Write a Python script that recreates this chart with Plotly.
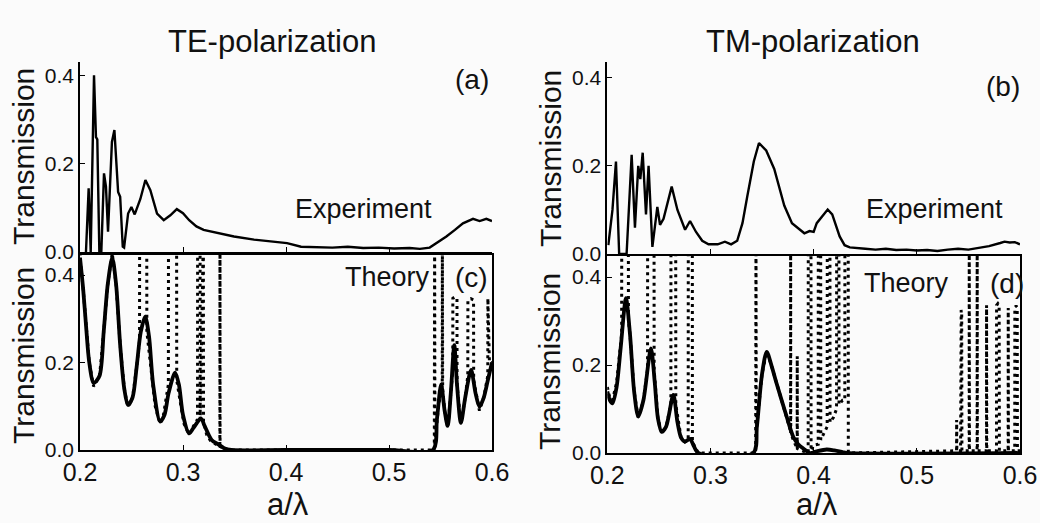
import plotly.graph_objects as go

# ---------------- data ----------------
x_ticks = [0.2, 0.3, 0.4, 0.5, 0.6]
x_tick_text = ["0.2", "0.3", "0.4", "0.5", "0.6"]
y_ticks = [0.0, 0.2, 0.4]
y_tick_text = ["0.0", "0.2", "0.4"]

# (a) TE experiment
te_exp_x = [0.2058, 0.2084, 0.2104, 0.2123, 0.2136, 0.2155, 0.2168, 0.2188, 0.2207, 0.2233,
            0.2252, 0.2272, 0.2295, 0.2310, 0.2334, 0.2350, 0.2370, 0.2390, 0.2415, 0.2428,
            0.2467, 0.2499, 0.2531, 0.2586, 0.2635, 0.2683, 0.2748, 0.2813, 0.2877, 0.2940,
            0.3000, 0.3060, 0.3130, 0.3200, 0.3333, 0.3495, 0.3690, 0.3850, 0.4010, 0.4146,
            0.4300, 0.4450, 0.4600, 0.4750, 0.4900, 0.5050, 0.5200, 0.5300, 0.5395, 0.5460,
            0.5557, 0.5640, 0.5718, 0.5816, 0.5880, 0.5945, 0.6000]
te_exp_y = [0.0, 0.144, 0.0, 0.245, 0.40, 0.26, 0.255, 0.0, 0.0, 0.178,
            0.148, 0.046, 0.185, 0.249, 0.276, 0.20, 0.136, 0.125, 0.012, 0.010,
            0.087, 0.102, 0.085, 0.12, 0.163, 0.14, 0.087, 0.072, 0.083, 0.097,
            0.088, 0.072, 0.058, 0.05, 0.043, 0.035, 0.028, 0.024, 0.02, 0.012,
            0.011, 0.010, 0.012, 0.009, 0.010, 0.008, 0.009, 0.007, 0.010, 0.02,
            0.035, 0.05, 0.065, 0.075, 0.07, 0.075, 0.07]

# (b) TM experiment
tm_exp_x = [0.2010, 0.2050, 0.2084, 0.2100, 0.2115, 0.2187, 0.2236, 0.2268, 0.2300, 0.2320,
            0.2343, 0.2375, 0.2400, 0.2437, 0.2485, 0.2511, 0.2545, 0.2624, 0.2680, 0.2754,
            0.2802, 0.2860, 0.2920, 0.2981, 0.3070, 0.3140, 0.3200, 0.3259, 0.3310, 0.3356,
            0.3420, 0.3470, 0.3540, 0.3618, 0.3715, 0.3790, 0.3845, 0.3910, 0.3960, 0.4000,
            0.4030, 0.4080, 0.4136, 0.4180, 0.4252, 0.4300, 0.4350, 0.4500, 0.4600, 0.4700,
            0.4800, 0.4900, 0.5000, 0.5100, 0.5200, 0.5300, 0.5400, 0.5500, 0.5600, 0.5700,
            0.5809, 0.5850, 0.5900, 0.5950, 0.6000]
tm_exp_y = [0.02, 0.10, 0.21, 0.10, 0.0, 0.0, 0.225, 0.06, 0.20, 0.17,
            0.23, 0.09, 0.20, 0.016, 0.107, 0.066, 0.08, 0.153, 0.10, 0.055,
            0.075, 0.05, 0.03, 0.022, 0.022, 0.028, 0.022, 0.03, 0.07, 0.13,
            0.21, 0.252, 0.235, 0.193, 0.11, 0.07, 0.06, 0.047, 0.052, 0.05,
            0.07, 0.085, 0.101, 0.09, 0.04, 0.02, 0.015, 0.012, 0.010, 0.012,
            0.009, 0.010, 0.008, 0.009, 0.007, 0.010, 0.012, 0.010, 0.014, 0.018,
            0.025, 0.028, 0.026, 0.027, 0.022]

# (c) TE theory, solid
te_th_x = [0.200, 0.203, 0.206, 0.209, 0.2133, 0.219, 0.223, 0.227, 0.2313, 0.235,
           0.239, 0.243, 0.2465, 0.251, 0.255, 0.259, 0.2633, 0.267, 0.271, 0.2778,
           0.282, 0.286, 0.2923, 0.296, 0.300, 0.3059, 0.310, 0.3175, 0.321, 0.3278,
           0.3343, 0.340, 0.347, 0.400, 0.500, 0.5426, 0.5465, 0.5506, 0.554, 0.557,
           0.560, 0.5634, 0.566, 0.5698, 0.574, 0.5797, 0.584, 0.5878, 0.592, 0.596, 0.600]
te_th_y = [0.44, 0.37, 0.28, 0.20, 0.153, 0.17, 0.27, 0.38, 0.44, 0.38,
           0.24, 0.14, 0.103, 0.12, 0.19, 0.27, 0.305, 0.26, 0.15, 0.065,
           0.08, 0.13, 0.177, 0.15, 0.08, 0.038, 0.05, 0.072, 0.055, 0.023,
           0.013, 0.004, 0.0, 0.0, 0.0, 0.0, 0.07, 0.15, 0.09, 0.055,
           0.13, 0.24, 0.15, 0.062, 0.12, 0.183, 0.13, 0.099, 0.12, 0.16, 0.20]

# (c) TE theory, dotted (finite crystal, sharp resonances)
te_dot_x = [0.200, 0.2005, 0.203, 0.206, 0.209, 0.2133, 0.219, 0.223, 0.227, 0.2313,
            0.235, 0.239, 0.243, 0.2465, 0.251, 0.255, 0.2578, 0.2579, 0.2648, 0.2649,
            0.269, 0.273, 0.2778, 0.281, 0.2858, 0.2859, 0.2938, 0.2939, 0.298, 0.301,
            0.3059, 0.309, 0.3141, 0.3142, 0.3166, 0.3167, 0.3198, 0.3199, 0.323, 0.327,
            0.333, 0.3358, 0.3359, 0.3360, 0.341, 0.345, 0.5440, 0.5443, 0.5446, 0.548,
            0.5517, 0.5518, 0.5521, 0.554, 0.557, 0.5619, 0.5620, 0.5640, 0.5660, 0.5661,
            0.5698, 0.574, 0.5765, 0.5766, 0.5795, 0.5821, 0.5822, 0.5878, 0.592, 0.5959,
            0.5960, 0.5975, 0.600]
te_dot_y = [0.50, 0.43, 0.37, 0.28, 0.20, 0.145, 0.17, 0.27, 0.38, 0.45,
            0.38, 0.24, 0.14, 0.098, 0.12, 0.19, 0.25, 0.50, 0.50, 0.27,
            0.18, 0.10, 0.06, 0.08, 0.15, 0.50, 0.50, 0.16, 0.10, 0.06,
            0.035, 0.05, 0.07, 0.50, 0.50, 0.07, 0.50, 0.065, 0.035, 0.02,
            0.012, 0.01, 0.50, 0.008, 0.003, 0.0, 0.0, 0.50, 0.01, 0.10,
            0.15, 0.50, 0.14, 0.09, 0.05, 0.18, 0.347, 0.35, 0.347, 0.15,
            0.06, 0.12, 0.17, 0.343, 0.346, 0.343, 0.16, 0.09, 0.12, 0.17,
            0.347, 0.20, 0.20]

# (d) TM theory, solid
tm_th_x = [0.200, 0.2025, 0.205, 0.209, 0.213, 0.2181, 0.222, 0.226, 0.230, 0.235,
           0.2423, 0.246, 0.249, 0.2527, 0.257, 0.264, 0.268, 0.2715, 0.2753, 0.2801,
           0.284, 0.2882, 0.3415, 0.345, 0.350, 0.3545, 0.359, 0.3641, 0.3738, 0.3802,
           0.385, 0.390, 0.3964, 0.403, 0.4126, 0.420, 0.428, 0.432, 0.600]
tm_th_y = [0.14, 0.12, 0.113, 0.15, 0.24, 0.352, 0.27, 0.14, 0.083, 0.12,
           0.238, 0.16, 0.08, 0.048, 0.06, 0.132, 0.07, 0.035, 0.026, 0.032,
           0.015, 0.0, 0.0, 0.06, 0.18, 0.23, 0.20, 0.158, 0.083, 0.037,
           0.02, 0.01, 0.0, 0.004, 0.008, 0.006, 0.002, 0.0, 0.0]

# (d) TM theory, dotted
tm_dot_x = [0.200, 0.2025, 0.205, 0.209, 0.2139, 0.2140, 0.2204, 0.2205, 0.222, 0.226,
            0.230, 0.235, 0.2390, 0.2391, 0.2453, 0.2454, 0.249, 0.2527, 0.257, 0.2616,
            0.2617, 0.2663, 0.2664, 0.2715, 0.2753, 0.2784, 0.2785, 0.2824, 0.2825, 0.2882,
            0.3438, 0.3441, 0.3444, 0.350, 0.3545, 0.359, 0.3641, 0.3738, 0.3776, 0.3777,
            0.3778, 0.3802, 0.3840, 0.3841, 0.3842, 0.389, 0.3947, 0.3948, 0.3974, 0.3975,
            0.4000, 0.4044, 0.4045, 0.4068, 0.4069, 0.4100, 0.4131, 0.4132, 0.4158, 0.4159,
            0.4190, 0.4222, 0.4223, 0.4245, 0.4246, 0.4280, 0.4302, 0.4303, 0.4335, 0.4336,
            0.5385, 0.5386, 0.5388, 0.5424, 0.5425, 0.5430, 0.5435, 0.5437, 0.5507, 0.5508,
            0.5510, 0.5584, 0.5585, 0.5587, 0.5675, 0.5676, 0.5678, 0.5772, 0.5773, 0.5786,
            0.5798, 0.5800, 0.5885, 0.5886, 0.5888, 0.5949, 0.5950, 0.5962, 0.5973, 0.5975,
            0.600]
tm_dot_y = [0.15, 0.125, 0.12, 0.16, 0.27, 0.50, 0.50, 0.30, 0.27, 0.14,
            0.08, 0.12, 0.19, 0.50, 0.50, 0.19, 0.08, 0.045, 0.06, 0.11,
            0.50, 0.50, 0.11, 0.035, 0.025, 0.03, 0.50, 0.50, 0.025, 0.0,
            0.0, 0.50, 0.05, 0.18, 0.23, 0.20, 0.158, 0.083, 0.05, 0.50,
            0.045, 0.03, 0.01, 0.22, 0.01, 0.005, 0.0, 0.50, 0.50, 0.005,
            0.018, 0.02, 0.50, 0.50, 0.03, 0.045, 0.06, 0.50, 0.50, 0.07,
            0.08, 0.10, 0.50, 0.50, 0.11, 0.12, 0.12, 0.50, 0.50, 0.0,
            0.005, 0.075, 0.005, 0.005, 0.32, 0.325, 0.32, 0.005, 0.005, 0.50,
            0.005, 0.005, 0.50, 0.005, 0.005, 0.336, 0.005, 0.005, 0.336, 0.34,
            0.336, 0.005, 0.005, 0.33, 0.005, 0.005, 0.33, 0.335, 0.33, 0.005,
            0.005]

panel_letters = ["(a)", "(b)", "(c)", "(d)"]
panel_labels = ["Experiment", "Experiment", "Theory", "Theory"]
col_titles = ["TE-polarization", "TM-polarization"]
y_title = "Transmission"
x_title = "a/\u03bb"

# ---------------- figure ----------------
W, H = 1040, 523
FONT = "Liberation Sans, Arial, Helvetica, sans-serif"
INK = "#111111"


def px(x):
    return x / W


def py(y):
    return 1 - y / H


fig = go.Figure()
solid_exp = dict(color="black", width=2.4)
solid_th = dict(color="black", width=3.8)
dotted = dict(color="black", width=3, dash="3px,4px")

fig.add_trace(go.Scatter(x=te_exp_x, y=te_exp_y, mode="lines", line=solid_exp, xaxis="x", yaxis="y"))
fig.add_trace(go.Scatter(x=tm_exp_x, y=tm_exp_y, mode="lines", line=solid_exp, xaxis="x2", yaxis="y2"))
fig.add_trace(go.Scatter(x=te_dot_x, y=te_dot_y, mode="lines", line=dotted, xaxis="x3", yaxis="y3"))
fig.add_trace(go.Scatter(x=te_th_x, y=te_th_y, mode="lines", line=dict(solid_th, shape="spline", smoothing=0.8),
                         xaxis="x3", yaxis="y3"))
fig.add_trace(go.Scatter(x=tm_dot_x, y=tm_dot_y, mode="lines", line=dotted, xaxis="x4", yaxis="y4"))
fig.add_trace(go.Scatter(x=tm_th_x, y=tm_th_y, mode="lines", line=dict(solid_th, shape="spline", smoothing=0.8),
                         xaxis="x4", yaxis="y4"))

left_dom = [px(80), px(492)]
right_dom = [px(607.3), px(1020)]


def xax(dom, anchor, labels, mirror):
    return dict(domain=dom, anchor=anchor, range=[0.2, 0.6], showline=True, linecolor="black",
                linewidth=1.6, mirror=mirror, ticks="inside", ticklen=5, tickwidth=1.3,
                tickcolor="black", tickvals=x_ticks, ticktext=x_tick_text, showticklabels=labels,
                tickfont=dict(family=FONT, size=25, color=INK), ticklabelstandoff=-1,
                showgrid=False, zeroline=False, automargin=False, fixedrange=True)


def yax(dom, anchor, top, mirror):
    return dict(domain=dom, anchor=anchor, range=[0, top], showline=True, linecolor="black",
                linewidth=1.6, mirror=mirror, ticks="inside", ticklen=5, tickwidth=1.3,
                tickcolor="black", tickvals=y_ticks, ticktext=y_tick_text,
                tickfont=dict(family=FONT, size=21, color=INK), showgrid=False,
                zeroline=False, automargin=False, fixedrange=True)


fig.update_layout(
    width=W, height=H, template="none", showlegend=False,
    margin=dict(l=0, r=0, t=0, b=0, pad=0),
    paper_bgcolor="#fbfbfb", plot_bgcolor="rgba(0,0,0,0)",
    xaxis=xax(left_dom, "y", False, False),
    yaxis=yax([py(252), py(62)], "x", 0.43, False),
    xaxis2=xax(right_dom, "y2", False, False),
    yaxis2=yax([py(254), py(62)], "x2", 0.436, False),
    xaxis3=xax(left_dom, "y3", True, True),
    yaxis3=yax([py(450), py(255)], "x3", 0.446, True),
    xaxis4=xax(right_dom, "y4", True, True),
    yaxis4=yax([py(453), py(256)], "x4", 0.448, True),
)

ann = []


def text(t, x, y, size, angle=0):
    ann.append(dict(text=t, x=px(x), y=py(y), xref="paper", yref="paper", showarrow=False,
                    xanchor="center", yanchor="middle", textangle=angle,
                    font=dict(family=FONT, size=size, color=INK)))


text(col_titles[0], 272, 42, 31)
text(col_titles[1], 813, 42, 31)
text(y_title, 23, 157, 30, -90)
text(y_title, 23, 356, 30, -90)
text(y_title, 551, 159, 30, -90)
text(y_title, 549, 362, 30, -90)
text(x_title, 288, 504, 31)
text(x_title, 817, 504, 31)
text(panel_letters[0], 472, 80, 28)
text(panel_letters[1], 1003, 87, 28)
text(panel_letters[2], 471, 277, 28)
text(panel_letters[3], 1007, 283, 28)
text(panel_labels[0], 363, 209, 27)
text(panel_labels[1], 934, 209, 27)
text(panel_labels[2], 387, 277, 27)
text(panel_labels[3], 906, 283, 27)
fig.update_layout(annotations=ann)

fig.write_html("out.html")
